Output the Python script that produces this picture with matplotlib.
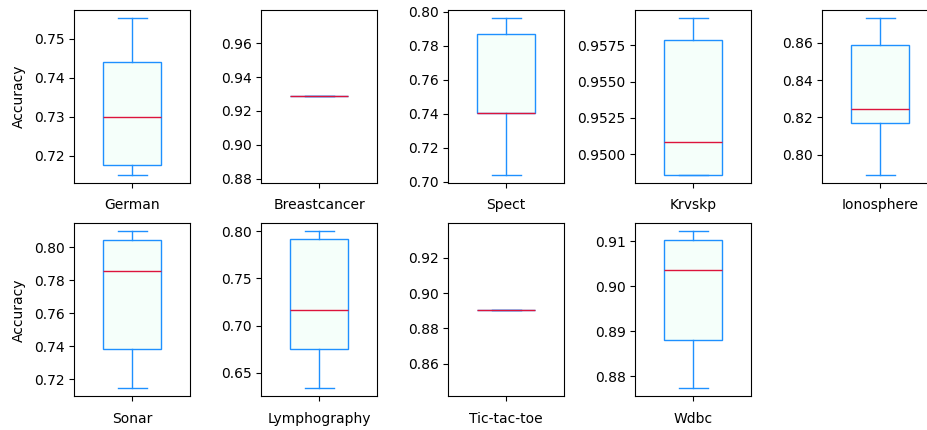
import matplotlib
matplotlib.use('Agg')
import matplotlib.pyplot as plt
from matplotlib.ticker import MaxNLocator

# Accuracy box plots for each dataset (stats)
datasets = ['German', 'Breastcancer', 'Spect', 'Krvskp', 'Ionosphere',
            'Sonar', 'Lymphography', 'Tic-tac-toe', 'Wdbc']
whislo = [0.7150, 0.9285, 0.7038, 0.94855, 0.7890, 0.7144, 0.6334, 0.8905, 0.8773]
q1 = [0.7177, 0.9285, 0.7407, 0.94855, 0.8171, 0.7382, 0.6754, 0.8905, 0.8881]
med = [0.7300, 0.9285, 0.7407, 0.95087, 0.8243, 0.7857, 0.7167, 0.8905, 0.9035]
q3 = [0.7440, 0.9285, 0.7869, 0.95784, 0.8591, 0.8041, 0.7919, 0.8905, 0.9102]
whishi = [0.7554, 0.9285, 0.7965, 0.95940, 0.8735, 0.8097, 0.8000, 0.8905, 0.9122]

fig = plt.figure(figsize=(9.27, 4.3), dpi=100)
W, H = 927.0, 430.0

for i, nome in enumerate(datasets):
    linha, col = divmod(i, 5)
    x0 = 74.3 + col * 187.0
    topo = 10.0 if linha == 0 else 223.3
    ax = fig.add_axes([x0 / W, 1 - (topo + 173.0) / H, 115.6 / W, 173.0 / H])
    stats = [{'label': nome, 'whislo': whislo[i], 'q1': q1[i], 'med': med[i],
              'q3': q3[i], 'whishi': whishi[i], 'fliers': []}]
    ax.bxp(stats, widths=0.5, patch_artist=True, showfliers=False,
           boxprops=dict(facecolor='mintcream', edgecolor='dodgerblue'),
           whiskerprops=dict(color='dodgerblue'),
           capprops=dict(color='dodgerblue'),
           medianprops=dict(color='crimson'))
    ax.tick_params(axis='x', pad=7.6)
    if nome == 'Krvskp':
        ax.yaxis.set_major_locator(MaxNLocator(5))
    if col == 0:
        ax.set_ylabel('Accuracy', labelpad=6)

fig.savefig('out.png', dpi=100)
